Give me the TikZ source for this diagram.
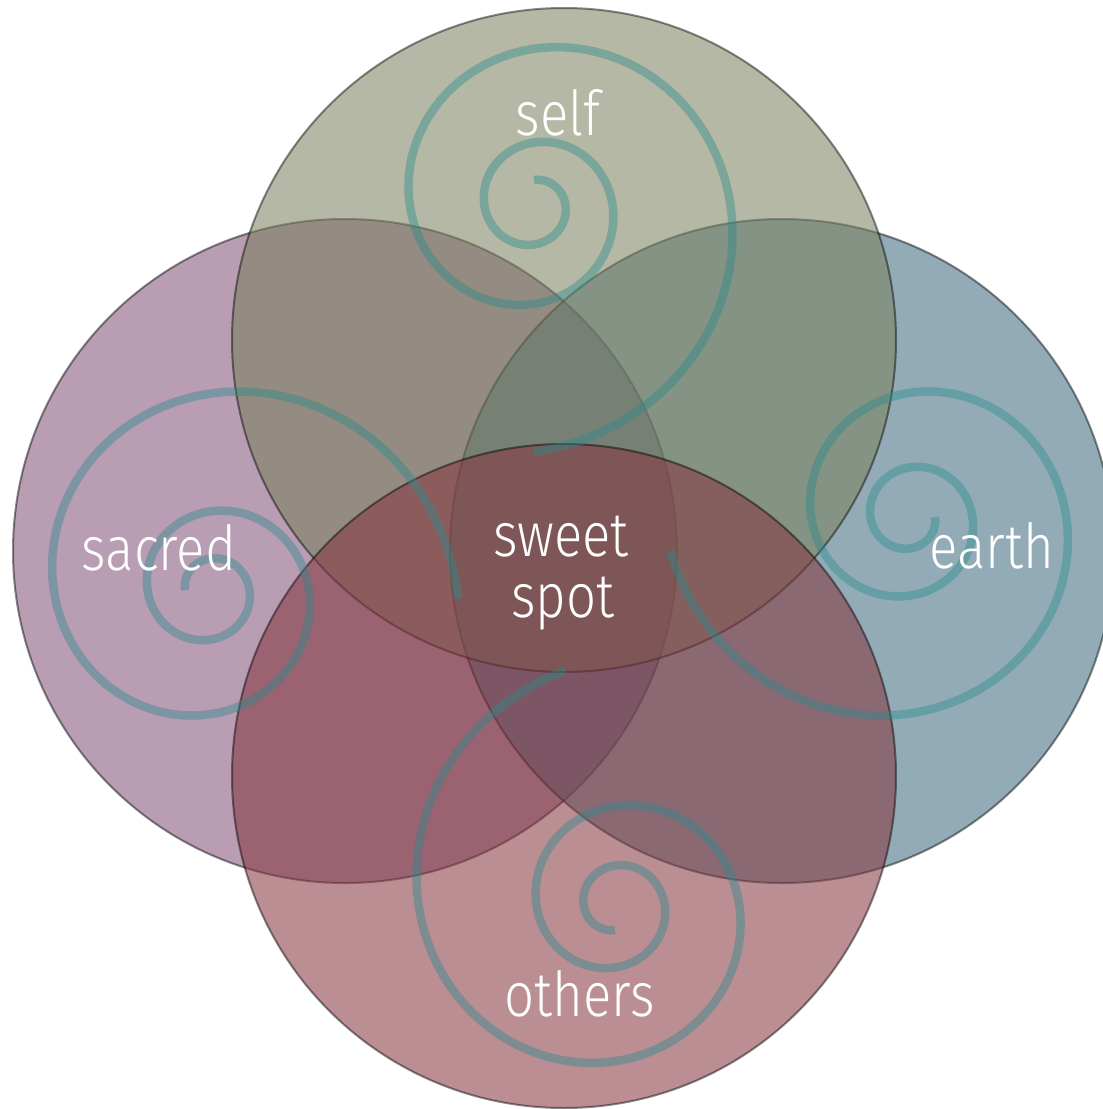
\documentclass[tikz,border=0pt]{standalone}
\usepackage{fontspec}
\newfontfamily\handfont{Fira Sans Light}[FakeStretch=0.85]
\definecolor{selfc}{HTML}{7A805D}
\definecolor{sacredc}{HTML}{805077}
\definecolor{earthc}{HTML}{3C6A7E}
\definecolor{othersc}{HTML}{853540}
\definecolor{swirlc}{HTML}{288C8C}
\tikzset{venn/.style={fill=#1,fill opacity=.56,draw=black,draw opacity=.45,line width=2pt},
  coil/.style={draw=swirlc,draw opacity=.42,line width=8.5pt},
  word/.style={text=white,anchor=base,font=\handfont\fontsize{62}{64}\selectfont}}

\begin{document}
\begin{tikzpicture}[x=1pt,y=-1pt]
\useasboundingbox (0,0) rectangle (1103,1109);
% four circles, drawn back to front
\draw[venn=sacredc] (345,551) circle[radius=332pt];
\draw[venn=earthc] (782,551) circle[radius=332pt];
\draw[venn=selfc] (564,340) circle[radius=332pt];
\draw[venn=othersc] (564,776) circle[radius=332pt];
% one spiral per circle: centre / start angle / sweep
\foreach \cx/\cy/\a/\len in {534/205/0/900,210/590/270/902,910/517/90/892,615/905/180/888}
  \draw[coil] plot[domain=0:\len,samples=240,variable=\t] ({\cx+25*pow(2.5,\t/360)*sin(\a+\t)},{\cy-25*pow(2.5,\t/360)*cos(\a+\t)});
\node[word] (self) at (558,135) {self};
\node[word] (sacred) at (159,570) {sacred};
\node[word] (earth) at (992,568) {earth};
\node[word] (sweet) at (561,556) {sweet};
\node[word] (spot) at (563,617) {spot};
\node[word] (others) at (580,1016) {others};
\end{tikzpicture}
\end{document}
